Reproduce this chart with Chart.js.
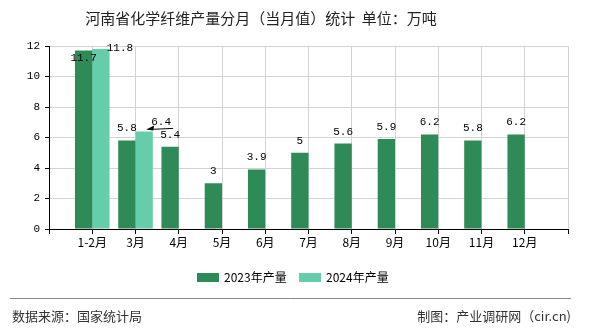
<!DOCTYPE html>
<html>
<head>
<meta charset="utf-8">
<script src="https://cdn.jsdelivr.net/npm/chart.js@4.4.1/dist/chart.umd.min.js"></script>
<style>
    html, body { margin: 0; padding: 0; background: #fff; }
    #wrap { width: 590px; height: 330px; }
</style>
</head>
<body>
<div id="wrap"><canvas id="chart" width="590" height="330"></canvas></div>
<script>
// categories and values
const months = ['1-2月', '3月', '4月', '5月', '6月', '7月', '8月', '9月', '10月', '11月', '12月'];
const output2023 = [11.7, 5.8, 5.4, 3, 3.9, 5, 5.6, 5.9, 6.2, 5.8, 6.2];
const output2024 = [11.8, 6.4, null, null, null, null, null, null, null, null, null];
const seriesNames = ['2023年产量', '2024年产量'];
const yTicks = [0, 2, 4, 6, 8, 10, 12];

const titleText = '河南省化学纤维产量分月（当月值）统计  单位：万吨';
const sourceText = '数据来源：国家统计局';
const creditText = '制图：产业调研网（cir.cn)';

const colors = ['#2e8b57', '#66cdaa'];
const cjk = '"Noto Sans CJK SC", "Noto Sans", sans-serif';
const mono = '"Liberation Mono", "DejaVu Sans Mono", monospace';

// empty slot at both ends so month ticks sit on grid lines
const labels = [''].concat(months, ['']);
const pad = arr => [null].concat(arr, [null]);

// a few labels in the reference are moved off the bar top
const labelShift = {
    '0-1': { dx: 0, dy: 20 },
    '1-1': { dx: 19, dy: 11 },
    '1-2': { dx: 17, dy: 3, arrow: true }
};

const extras = {
    id: 'extras',
    afterDatasetsDraw(chart) {
        const ctx = chart.ctx;
        ctx.save();
        ctx.font = '11px ' + mono;
        ctx.fillStyle = '#000';
        ctx.textAlign = 'center';
        ctx.textBaseline = 'middle';
        chart.data.datasets.forEach((ds, di) => {
            chart.getDatasetMeta(di).data.forEach((bar, i) => {
                const v = ds.data[i];
                if (v === null || v === undefined) return;
                const s = labelShift[di + '-' + i] || { dx: 0, dy: 0 };
                const x = bar.x + s.dx;
                const y = bar.y - 12 + s.dy;
                ctx.fillText(String(v), x, y);
                if (s.arrow) {
                    const ax = bar.x + 2, ay = bar.y - 2;
                    ctx.strokeStyle = '#000';
                    ctx.lineWidth = 1;
                    ctx.beginPath();
                    ctx.moveTo(x + 12, ay - 1);
                    ctx.lineTo(ax + 4, ay);
                    ctx.stroke();
                    ctx.beginPath();
                    ctx.moveTo(ax, ay);
                    ctx.lineTo(ax + 8, ay - 4);
                    ctx.lineTo(ax + 7, ay + 1);
                    ctx.closePath();
                    ctx.fillStyle = '#000';
                    ctx.fill();
                }
            });
        });
        ctx.restore();
    },
    afterDraw(chart) {
        const ctx = chart.ctx;
        ctx.save();
        // title
        ctx.fillStyle = '#222';
        ctx.font = '15px ' + cjk;
        ctx.textAlign = 'center';
        ctx.textBaseline = 'middle';
        ctx.fillText(titleText, 261, 18);

        // legend
        ctx.font = '12px ' + cjk;
        ctx.textAlign = 'left';
        let lx = 197;
        seriesNames.forEach((name, i) => {
            ctx.fillStyle = colors[i];
            ctx.fillRect(lx, 273, 22, 9);
            ctx.fillStyle = '#000';
            ctx.fillText(name, lx + 27, 277);
            lx += 102;
        });

        // footer
        ctx.strokeStyle = '#888';
        ctx.lineWidth = 1;
        ctx.beginPath();
        ctx.moveTo(10, 298.5);
        ctx.lineTo(571, 298.5);
        ctx.stroke();
        ctx.fillStyle = '#333';
        ctx.font = '13px ' + cjk;
        ctx.fillText(sourceText, 12, 316);
        ctx.textAlign = 'right';
        ctx.fillText(creditText, 571, 316);
        ctx.restore();
    }
};

new Chart(document.getElementById('chart').getContext('2d'), {
    type: 'bar',
    data: {
        labels: labels,
        datasets: [{
            label: seriesNames[0],
            data: pad(output2023),
            backgroundColor: colors[0]
        }, {
            label: seriesNames[1],
            data: pad(output2024),
            backgroundColor: colors[1]
        }]
    },
    options: {
        responsive: false,
        animation: false,
        categoryPercentage: 0.8,
        barPercentage: 1.0,
        layout: {
            padding: { left: 0, right: 22, top: 46, bottom: 71 }
        },
        plugins: {
            legend: { display: false },
            title: { display: false },
            tooltip: { enabled: false }
        },
        scales: {
            x: {
                offset: false,
                grid: {
                    offset: false,
                    color: '#d3d3d3',
                    tickColor: '#000',
                    tickLength: 5
                },
                border: { color: '#000', width: 1 },
                ticks: {
                    color: '#000',
                    font: { family: cjk, size: 12 },
                    padding: 1,
                    maxRotation: 0,
                    autoSkip: false
                },
                afterFit(scale) { scale.height = 30; }
            },
            y: {
                min: 0,
                max: 12,
                afterBuildTicks(scale) { scale.ticks = yTicks.map(v => ({ value: v })); },
                grid: {
                    color: '#d3d3d3',
                    tickColor: '#000',
                    tickLength: 4
                },
                border: { color: '#000', width: 1 },
                ticks: {
                    color: '#000',
                    font: { family: mono, size: 11 },
                    padding: 5
                },
                afterFit(scale) { scale.width = 49; }
            }
        }
    },
    plugins: [extras]
});
</script>
</body>
</html>
